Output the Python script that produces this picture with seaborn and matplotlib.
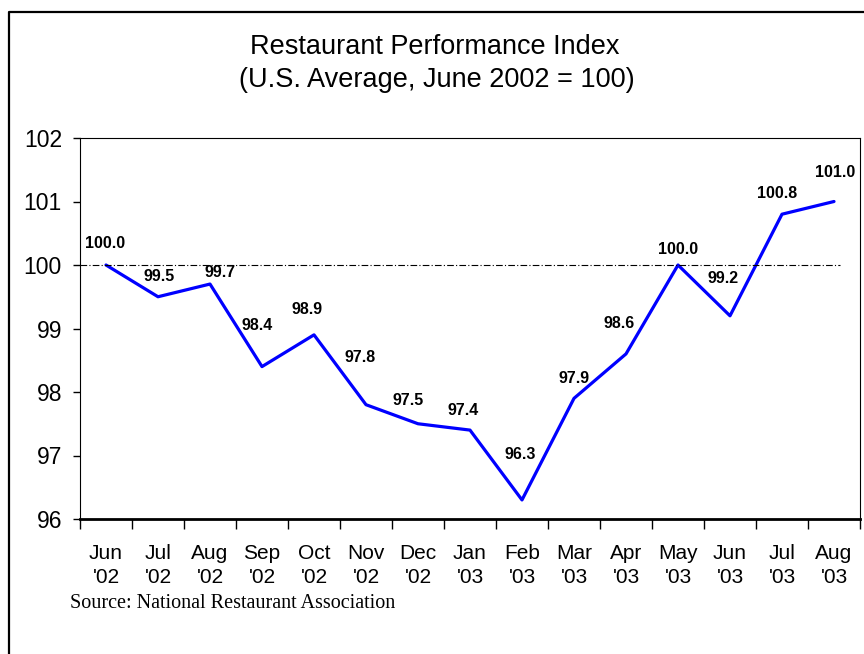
import matplotlib
matplotlib.use("Agg")
import matplotlib.pyplot as plt
import seaborn as sns
import pandas as pd
import numpy as np
from matplotlib.lines import Line2D

months = ["Jun\n'02", "Jul\n'02", "Aug\n'02", "Sep\n'02", "Oct\n'02", "Nov\n'02", "Dec\n'02",
          "Jan\n'03", "Feb\n'03", "Mar\n'03", "Apr\n'03", "May\n'03", "Jun\n'03", "Jul\n'03", "Aug\n'03"]
index_values = [100.0, 99.5, 99.7, 98.4, 98.9, 97.8, 97.5, 97.4, 96.3, 97.9, 98.6, 100.0, 99.2, 100.8, 101.0]
y_ticks = [96, 97, 98, 99, 100, 101, 102]
baseline = 100

# label offsets in pixels (dx, dy) -- styling only
label_dx = [-1, 1, 10, -5, -7, -6, -10, -7, -2, 0, -7, 0, -7, -5, 1]
label_dy = [22, 20, 12, 41, 25, 47, 23, 20, 45, 20, 30, 16, 37, 21, 29]

sns.set_theme(style="white")
plt.rcParams['font.family'] = ['Liberation Sans', 'DejaVu Sans']

df = pd.DataFrame({"month": months, "value": index_values})

fig = plt.figure(figsize=(8.64, 6.54), dpi=100)
fig.patch.set_facecolor("white")
ax = fig.add_axes([80/864, 1-519/654, 780/864, 381/654])

sns.lineplot(data=df, x="month", y="value", ax=ax, color="#0000FF", linewidth=2.3, sort=False)

ax.axhline(baseline, xmin=0, xmax=0.974, color="black", linewidth=0.8, linestyle=(0, (6, 2, 1, 2)))

ax.set_xlim(-0.5, len(months) - 0.5)
ax.set_ylim(y_ticks[0], y_ticks[-1])
ax.set_yticks(y_ticks)
ax.set_yticklabels([str(t) for t in y_ticks], fontsize=16.5)
ax.set_xticks(np.arange(len(months)))
ax.set_xticklabels(months, fontsize=15, linespacing=1.32)
ax.set_xticks(np.arange(len(months) + 1) - 0.5, minor=True)
ax.tick_params(axis='x', which='major', length=0, pad=18, colors='black')
ax.tick_params(axis='x', which='minor', length=7, width=1, color='black', direction='out', bottom=True)
ax.tick_params(axis='y', which='major', length=5, width=1, color='black', direction='out', pad=8, left=True, colors='black')
ax.set_xlabel("")
ax.set_ylabel("")
ax.grid(False)

for side in ["top", "right", "left"]:
    ax.spines[side].set_visible(True)
    ax.spines[side].set_color("black")
    ax.spines[side].set_linewidth(0.8)
ax.spines["bottom"].set_color("black")
ax.spines["bottom"].set_linewidth(2.0)

for i, v in enumerate(index_values):
    ax.annotate(f"{v:.1f}", xy=(i, v), xytext=(label_dx[i], label_dy[i]), textcoords="offset pixels",
                ha="center", va="center", fontsize=11.5, fontweight="bold", color="black")

fig.text(435/864, 1-47/654, "Restaurant Performance Index", ha="center", va="center", fontsize=19.5, color="black")
fig.text(437/864, 1-80/654, "(U.S. Average, June 2002 = 100)", ha="center", va="center", fontsize=19.5, color="black")

fig.text(70/864, 1-604/654, "Source: National Restaurant Association", ha="left", va="center",
         fontsize=14.5, family=['Liberation Serif', 'DejaVu Serif'], color="black")

# outer frame
fig.add_artist(Line2D([9/864, 9/864, 1.0], [0.0, 1-12/654, 1-12/654], transform=fig.transFigure,
                      color="black", linewidth=1.6))

fig.savefig("out.png", dpi=100, facecolor="white")
